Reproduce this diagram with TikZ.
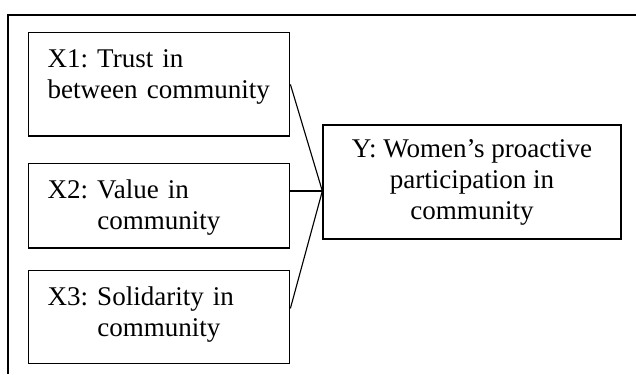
\documentclass[tikz,border=0pt]{standalone}
\usepackage{fontspec}
\setmainfont{Liberation Serif}
\usetikzlibrary{positioning}
\usetikzlibrary{calc}
\tikzset{xbox/.style={draw,line width=0.6pt,anchor=north west,inner xsep=8.45pt,inner ysep=0pt,
    text width=99pt,align=left,text height=15.3pt,font=\fontsize{12}{13.8}\selectfont\frenchspacing}}

\begin{document}
\begin{tikzpicture}[x=0.444pt,y=-0.444pt]
\useasboundingbox (0,0) rectangle (636,374);
\draw[line width=0.7pt] (636,15)--(8,15)--(8,374);
\foreach \n/\y/\d/\t in {1/32/30.6pt/{X1: Trust in\\between community},2/163/22.2pt/{X2: Value in\\\phantom{X2: }community},3/270/25.8pt/{X3: Solidarity in\\\phantom{X3: }community}} {
\node[xbox,text depth=\d] (X\n) at (28,\y) {\t};}
\node[draw,line width=0.6pt,minimum width=132.3pt,minimum height=50.6pt,align=center,
    font=\fontsize{12}{13.8}\selectfont\frenchspacing] (Y) at (472,182) {Y: Women's proactive\\participation in\\community};
\coordinate (M) at ([yshift=-4pt]Y.west);
\draw[line width=0.5pt] (X1.east)--(M);
\draw[line width=0.5pt] (X2.east |- M)--(M);
\draw[line width=0.5pt] ([yshift=3.8pt]X3.east)--(M);
\end{tikzpicture}
\end{document}
